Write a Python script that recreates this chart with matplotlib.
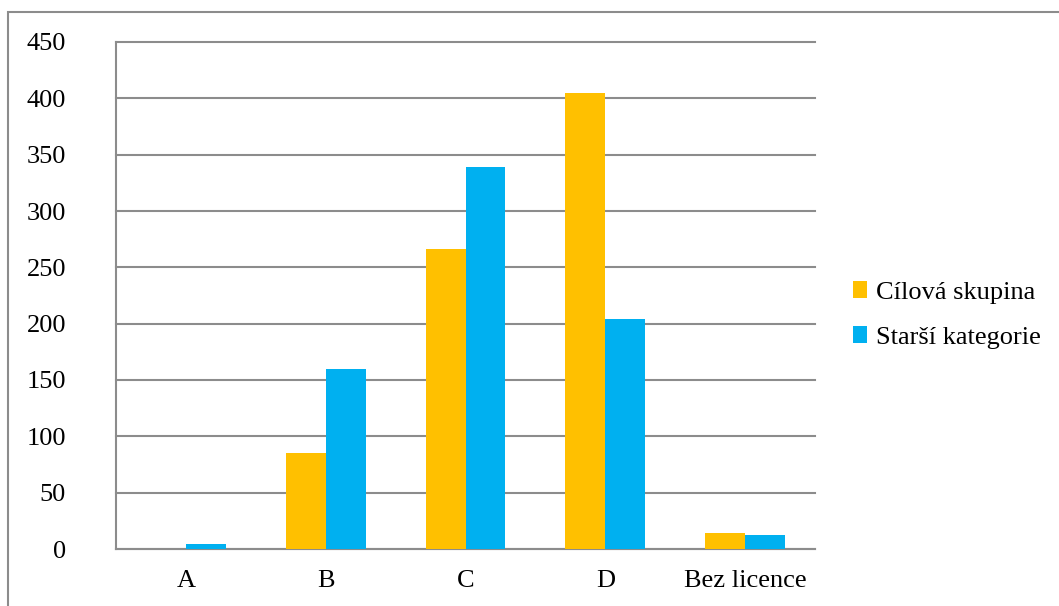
import matplotlib.pyplot as plt
import numpy as np
from matplotlib.patches import Rectangle

categories = ["A", "B", "C", "D", "Bez licence"]
series_names = ["Cílová skupina", "Starší kategorie"]
cilova = [0, 85, 266, 405, 14]
starsi = [4, 160, 339, 204, 12]
y_ticks = [0, 50, 100, 150, 200, 250, 300, 350, 400, 450]

plt.rcParams['font.family'] = ['Liberation Serif', 'DejaVu Serif']

W, H = 1059, 606
fig = plt.figure(figsize=(W / 100, H / 100), dpi=100)

# outer frame
fig.patches.append(Rectangle((8 / W, -0.1), 1.2, (H - 12) / H + 0.1,
                             transform=fig.transFigure, fill=False,
                             edgecolor='#8c8c8c', linewidth=1.5))

ax = fig.add_axes([116 / W, (H - 549) / H, (815 - 116) / W, (549 - 42) / H])

x = np.arange(len(categories))
bw = 0.286
ax.bar(x - bw / 2, cilova, bw, color='#FFC000', label=series_names[0], zorder=3)
ax.bar(x + bw / 2, starsi, bw, color='#00B0F0', label=series_names[1], zorder=3)

ax.set_xlim(-0.5, len(categories) - 0.5)
ax.set_ylim(0, 450)
ax.set_yticks(y_ticks)
ax.set_xticks(x)
ax.set_xticklabels(categories)
ax.yaxis.grid(True, color='#8c8c8c', linewidth=1.5, zorder=0)
for gl in ax.get_ygridlines():
    gl.set_clip_on(False)
ax.set_axisbelow(True)

for s in ['top', 'right']:
    ax.spines[s].set_visible(False)
for s in ['left', 'bottom']:
    ax.spines[s].set_color('#8c8c8c')
    ax.spines[s].set_linewidth(1.5)

ax.tick_params(axis='y', length=0, pad=36, labelsize=19)
ax.tick_params(axis='x', length=0, pad=15, labelsize=19)

ax.legend(loc='center left', bbox_to_anchor=(829 / W, (H - 315) / H),
          bbox_transform=fig.transFigure, frameon=False, fontsize=19,
          handlelength=0.55, handleheight=0.6, handletextpad=0.35,
          labelspacing=0.85)

fig.savefig('out.png', dpi=100)
